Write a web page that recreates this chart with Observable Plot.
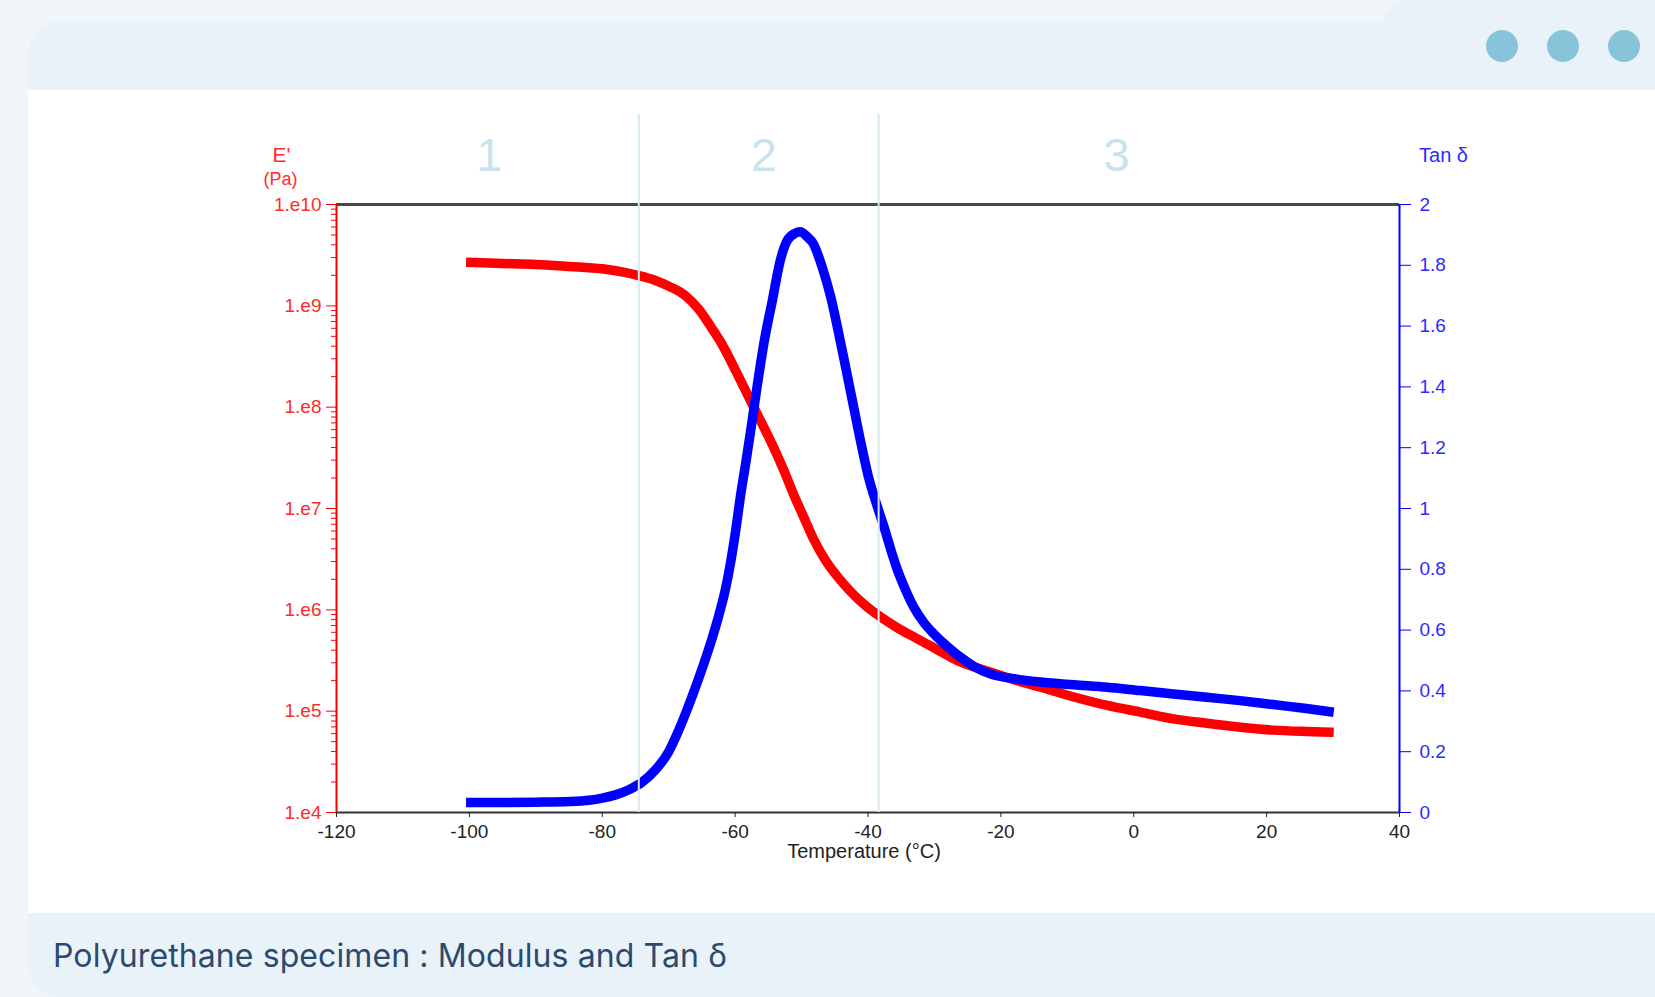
<!DOCTYPE html>
<html>
<head>
<meta charset="utf-8">
<script src="https://cdn.jsdelivr.net/npm/d3@7"></script>
<script src="https://cdn.jsdelivr.net/npm/@observablehq/plot@0.6"></script>
<style>
  html, body { margin: 0; padding: 0; }
  body { width: 1655px; height: 997px; overflow: hidden; background: #f1f6f9; position: relative; font-family: "Liberation Sans", Arial, sans-serif; }
  .tab { position: absolute; left: 1383px; top: 0; right: 0; height: 60px; background: #e9f2f8; border-top-left-radius: 24px; }
  .card { position: absolute; left: 28px; top: 21px; right: 0; bottom: 0; background: #e9f2f8; border-top-left-radius: 32px; border-bottom-left-radius: 32px; }
  .panel { position: absolute; left: 28px; top: 90px; width: 1627px; height: 823px; background: #ffffff; }
  .dot { position: absolute; width: 32px; height: 32px; border-radius: 50%; background: #88c4d9; top: 30px; }
  .caption { position: absolute; left: 53px; top: 936px; font-family: Inter, "Noto Sans", sans-serif; font-size: 32px; letter-spacing: 0.1px; color: #2c4a6e; white-space: nowrap; line-height: 40px; }
  #chart { position: absolute; left: 28px; top: 90px; }
</style>
</head>
<body>
<div class="tab"></div>
<div class="card"></div>
<div class="panel"></div>
<div class="dot" style="left:1486px"></div>
<div class="dot" style="left:1547px"></div>
<div class="dot" style="left:1608px"></div>
<div id="chart"></div>
<div class="caption">Polyurethane specimen : Modulus and Tan δ</div>
<script>
// Storage modulus E' (Pa) vs temperature (°C)
const modT = [-100.5, -95, -90, -85, -80, -77, -74.7, -72, -69.7, -67.5, -65.5, -63.5, -62, -59.7, -57.2, -55.5, -54.2, -52.7, -51.2, -49.7, -48.2, -46.5, -44.5, -42.6, -40.5, -38.1, -35.5, -33.1, -30, -26.6, -21.6, -18, -14, -9, -4, 1, 6, 11, 16.1, 21, 26, 30.1];
const modE = [2.69e9, 2.62e9, 2.56e9, 2.45e9, 2.32e9, 2.16e9, 2.0e9, 1.78e9, 1.53e9, 1.26e9, 9.3e8, 6.0e8, 4.2e8, 2.14e8, 1.0e8, 6.0e7, 4.0e7, 2.4e7, 1.38e7, 8.3e6, 5.0e6, 3.16e6, 2.09e6, 1.51e6, 1.12e6, 8.5e5, 6.6e5, 5.4e5, 4.2e5, 3.16e5, 2.43e5, 2.04e5, 1.72e5, 1.38e5, 1.14e5, 9.8e4, 8.4e4, 7.6e4, 6.95e4, 6.5e4, 6.3e4, 6.2e4];

// Tan delta vs temperature (°C)
const tanT = [-100.5, -95, -90, -85, -82, -80, -78, -76, -74, -72, -70, -68.5, -67.2, -66, -64.7, -63.5, -62.5, -61.5, -60.7, -59.9, -59.2, -58.4, -57.7, -56.7, -55.7, -54.4, -53.2, -52.2, -51, -50.2, -49.2, -48.2, -46.9, -45.6, -44.6, -43.6, -42.4, -41.2, -40, -38.5, -37.6, -36.5, -35.6, -34.3, -33.1, -31.6, -30.1, -28, -26.1, -24, -21.6, -18, -14, -9, -4, 1, 6, 11, 16, 21, 26, 30.1];
const tanV = [0.033, 0.033, 0.034, 0.036, 0.04, 0.047, 0.058, 0.075, 0.1, 0.14, 0.2, 0.27, 0.34, 0.41, 0.49, 0.57, 0.645, 0.73, 0.82, 0.93, 1.04, 1.15, 1.25, 1.40, 1.54, 1.684, 1.816, 1.88, 1.905, 1.91, 1.895, 1.87, 1.794, 1.695, 1.596, 1.49, 1.36, 1.23, 1.11, 1.0, 0.94, 0.86, 0.80, 0.73, 0.675, 0.625, 0.588, 0.545, 0.511, 0.48, 0.456, 0.44, 0.429, 0.42, 0.412, 0.401, 0.39, 0.379, 0.368, 0.355, 0.342, 0.33];

const xTicks = [-120, -100, -80, -60, -40, -20, 0, 20, 40];
const eTicks = [1e4, 1e5, 1e6, 1e7, 1e8, 1e9, 1e10];
const eTickLabels = ["1.e4", "1.e5", "1.e6", "1.e7", "1.e8", "1.e9", "1.e10"];
const tanTicks = [0, 0.2, 0.4, 0.6, 0.8, 1, 1.2, 1.4, 1.6, 1.8, 2];
const tanTickLabels = ["0", "0.2", "0.4", "0.6", "0.8", "1", "1.2", "1.4", "1.6", "1.8", "2"];
const zoneLabels = ["1", "2", "3"];
const zoneX = [-97, -55.7, -2.6];
const dividerX = [-74.5, -38.4];

// Shared vertical scale in decades of E' (log10 Pa, 4..10);
// tan δ (0..2) is mapped onto the same range for the right axis.
const eToY = e => Math.log10(e);
const tanToY = t => 4 + 3 * t;

const modulus = modT.map((T, i) => ({T, E: modE[i]}));
const tanDelta = tanT.map((T, i) => ({T, tan: tanV[i]}));
const zones = zoneLabels.map((label, i) => ({label, x: zoneX[i]}));

const eTickItems = eTicks.map((v, i) => ({y: eToY(v), label: eTickLabels[i]}));
const tanTickItems = tanTicks.map((t, i) => ({y: tanToY(t), label: tanTickLabels[i]}));
const minorTicks = d3.scaleLog().domain([1e4, 1e10]).ticks().filter(v => !eTicks.includes(v)).map(eToY);

const findLabel = (items, d) => { const it = items.find(o => Math.abs(o.y - d) < 1e-6); return it ? it.label : ""; };

const RED = "#ff0000", RED_TXT = "#ff2b2b", BLUE = "#0000ff", BLUE_TXT = "#2b2bff";

const chart = Plot.plot({
  width: 1627,
  height: 823,
  marginLeft: 308,
  marginRight: 256,
  marginTop: 114,
  marginBottom: 101,
  style: {background: "transparent", fontFamily: "'Liberation Sans', Arial, sans-serif", fontSize: "19px", overflow: "visible"},
  x: {domain: [-120, 40]},
  y: {type: "linear", domain: [4, 10]},
  marks: [
    Plot.line(modulus, {x: "T", y: d => eToY(d.E), stroke: RED, strokeWidth: 9.5, curve: "monotone-x", strokeLinecap: "butt"}),
    Plot.line(tanDelta, {x: "T", y: d => tanToY(d.tan), stroke: BLUE, strokeWidth: 9.5, curve: "monotone-x", strokeLinecap: "butt"}),
    Plot.ruleY([10], {stroke: "#4a4a4a", strokeWidth: 3}),
    Plot.ruleY([4], {stroke: "#333", strokeWidth: 2}),
    Plot.axisX({ticks: xTicks, tickSize: 5, tickPadding: 7, tickFormat: d => String(d), color: "#222", label: null, style: {letterSpacing: "0.5px"}}),
    Plot.axisY({ticks: minorTicks, anchor: "left", tickSize: 5, tickFormat: () => "", color: RED, label: null}),
    Plot.axisY({ticks: eTickItems.map(o => o.y), anchor: "left", tickSize: 10, tickPadding: 5, tickFormat: d => findLabel(eTickItems, d), color: RED_TXT, stroke: RED, label: null, style: {letterSpacing: "0.5px"}}),
    Plot.axisY({ticks: tanTickItems.map(o => o.y), anchor: "right", tickSize: 11, tickPadding: 9, tickFormat: d => findLabel(tanTickItems, d), color: BLUE_TXT, stroke: BLUE, label: null, style: {letterSpacing: "0.5px"}}),
    Plot.ruleX([-120], {stroke: RED, strokeWidth: 2}),
    Plot.ruleX([40], {stroke: BLUE, strokeWidth: 2}),
    Plot.ruleX(dividerX, {stroke: "#d6e9f1", strokeWidth: 2, insetTop: -90}),
    Plot.text(zones, {x: "x", text: "label", frameAnchor: "top", lineAnchor: "middle", textAnchor: "middle", dy: -49, fontSize: 47, fill: "#c9e3ee"}),
    Plot.text(["E'"], {frameAnchor: "top-left", lineAnchor: "middle", textAnchor: "middle", dx: -55, dy: -49, fontSize: 21, fill: RED_TXT}),
    Plot.text(["(Pa)"], {frameAnchor: "top-left", lineAnchor: "middle", textAnchor: "middle", dx: -56, dy: -25, fontSize: 18, fill: RED_TXT}),
    Plot.text(["Tan δ"], {frameAnchor: "top-right", lineAnchor: "middle", textAnchor: "middle", dx: 44, dy: -49, fontSize: 20, fill: BLUE_TXT}),
    Plot.text(["Temperature (°C)"], {frameAnchor: "bottom", lineAnchor: "middle", textAnchor: "middle", dx: -4, dy: 39, fontSize: 20, fill: "#222"})
  ]
});
document.getElementById("chart").appendChild(chart);
</script>
</body>
</html>
